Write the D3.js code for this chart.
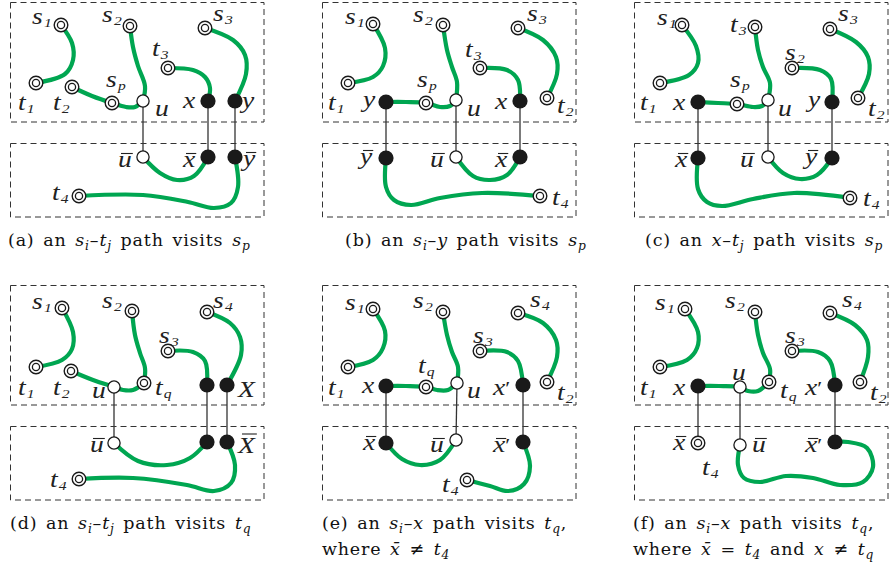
<!DOCTYPE html>
<html><head><meta charset="utf-8">
<script src="https://cdn.jsdelivr.net/npm/d3@7"></script>
<style>body{margin:0;background:#fff}</style>
</head><body>
<svg id="c" width="891" height="570" xmlns="http://www.w3.org/2000/svg"></svg>
<script>
// ---------- DATA ----------
const panelOrigins = [[10,2],[322,2],[634,2],[10,285],[322,285],[634,285]];

// nodes: [id, x, y, kind]  kind: T = terminal (double circle), W = white vertex, B = black vertex
const nodesA = [["s1",51,23,"T"],["t1",26,81,"T"],["s2",120,24,"T"],["t3",158,66,"T"],["s3",195,26,"T"],
  ["t2",62,85,"T"],["sp",102,101,"T"],["u",133,99,"W"],["x",198,99,"B"],["y",225,99,"B"],
  ["ub",133,155,"W"],["xb",198,155,"B"],["yb",225,155,"B"],["t4",69,194,"T"]];
const nodesB = [["s1",51,22,"T"],["t1",26,81,"T"],["s2",121,23,"T"],["t3",158,66,"T"],["s3",196,26,"T"],
  ["t2",225,96,"T"],["y",64,100,"B"],["sp",104,101,"T"],["u",134,98,"W"],["x",198,99,"B"],
  ["yb",64,156,"B"],["ub",134,155,"W"],["xb",198,155,"B"],["t4",218,194,"T"]];
const nodesC = [["s1",48,23,"T"],["t1",26,81,"T"],["t3",121,25,"T"],["s3",196,27,"T"],["s2",158,66,"T"],
  ["t2",224,96,"T"],["x",64,100,"B"],["sp",103,102,"T"],["u",134,98,"W"],["y",198,100,"B"],
  ["xb",64,156,"B"],["ub",134,155,"W"],["yb",198,156,"B"],["t4",216,196,"T"]];
const nodesD = [["s1",52,23,"T"],["s2",122,26,"T"],["s4",197,27,"T"],["s3",158,66,"T"],["t1",26,82,"T"],
  ["t2",61,86,"T"],["u",104,102,"W"],["tq",134,98,"T"],["b1",197,100,"B"],["b2",217,100,"B"],
  ["ub",104,158,"W"],["b3",197,157,"B"],["b4",217,157,"B"],["t4",69,194,"T"]];
const nodesE = [["s1",51,24,"T"],["s2",121,27,"T"],["s4",196,28,"T"],["s3",158,66,"T"],["t1",26,82,"T"],
  ["t2",225,97,"T"],["x",64,101,"B"],["tq",104,102,"T"],["u",135,98,"W"],["xp",201,100,"B"],
  ["xb",64,158,"B"],["ub",134,155,"W"],["xpb",201,157,"B"],["t4",145,195,"T"]];
const nodesF = [["s1",51,24,"T"],["s2",121,27,"T"],["s4",196,28,"T"],["s3",158,66,"T"],["t1",26,82,"T"],
  ["t2",226,97,"T"],["x",64,101,"B"],["u",106,102,"W"],["tq",135,97,"T"],["xp",201,100,"B"],
  ["xb",64,158,"T"],["ub",106,160,"W"],["xpb",201,157,"B"]];

// green paths: waypoint lists (node ids or intermediate points)
const pathsA = [
  ["s1",[62,41],[63,58],[55,72],"t1"],
  ["s2",[123,45],[128,64],[135,84],"u"],
  ["t2",[82,94],"sp",[116,105],[125,105],"u"],
  ["t3",[183,68],[195,75],[200,86],"x"],
  ["s3",[223,38],[235,53],[236,72],"y"],
  ["ub",[150,171],[167,178],[184,174],"xb"],
  ["yb",[228,185],[221,201],[204,206],[178,200],[133,193],"t4"]];
const pathsB = [
  ["s1",[63,46],[61,64],[51,75],"t1"],
  ["s2",[125,48],[130,65],[135,80],"u"],
  ["y",[84,100],"sp",[118,105],[128,104],"u"],
  ["t3",[185,68],[196,78],"x"],
  ["s3",[221,38],[234,55],[235,72],"t2"],
  ["ub",[151,174],[168,178],[185,173],"xb"],
  ["yb",[64,185],[72,198],[89,203],[118,196],[160,191],"t4"]];
const pathsC = [
  ["s1",[62,44],[64,61],[55,73],"t1"],
  ["t3",[124,48],[129,65],[136,81],"u"],
  ["x",[84,101],"sp",[119,105],[128,104],"u"],
  ["s2",[186,68],[197,77],"y"],
  ["s3",[222,40],[234,55],[235,72],"t2"],
  ["ub",[149,171],[166,177],[183,173],"yb"],
  ["xb",[64,187],[73,200],[88,204],[119,197],[160,191],"t4"]];
const pathsD = [
  ["s1",[63,47],[62,64],[52,75],"t1"],
  ["s2",[125,50],[130,68],[135,83],"tq"],
  ["t2",[83,95],"u",[113,105],[123,105],"tq"],
  ["s3",[183,67],[195,76],"b1"],
  ["s4",[220,38],[230,52],[231,70],"b2"],
  ["ub",[128,176],[157,180],[180,173],"b3"],
  ["b4",[225,180],[221,198],[204,206],[177,200],[123,193],"t4"]];
const pathsE = [
  ["s1",[63,46],[61,63],[51,75],"t1"],
  ["s2",[125,50],[130,67],[136,82],"u"],
  ["x",[84,101],"tq",[115,105],[126,105],"u"],
  ["s3",[185,67],[196,76],"xp"],
  ["s4",[221,38],[234,55],[235,72],"t2"],
  ["xb",[80,174],[98,180],[118,175],"ub"],
  ["xpb",[208,181],[202,199],[186,206],[168,201],"t4"]];
const pathsF = [
  ["s1",[64,47],[63,63],[53,75],"t1"],
  ["s2",[124,50],[129,68],[136,84],"tq"],
  ["x",[85,101],"u",[114,106],[124,106],"tq"],
  ["s3",[184,67],[196,76],"xp"],
  ["s4",[221,40],[233,55],[234,72],"t2"],
  ["ub",[104,180],[110,193],[126,197],[152,191],[179,193],[206,200],[229,197],[239,182],[233,163],[214,157],"xpb"]];

// thin vertical connections
const linksA = [["u","ub"],["x","xb"],["y","yb"]];
const linksB = [["y","yb"],["u","ub"],["x","xb"]];
const linksC = [["x","xb"],["u","ub"],["y","yb"]];
const linksD = [["u","ub"],["b1","b3"],["b2","b4"]];
const linksE = [["x","xb"],["u","ub"],["xp","xpb"]];
const linksF = [["x","xb"],["u","ub"],["xp","xpb"]];

// labels: [letter, subscript, x, y(baseline), bar, prime]
const labelsA = [["s","1",22,22],["s","2",92,20],["s","3",203,19],["t","3",142,54],["t","1",8,108],
  ["t","2",43,108],["s","p",96,85],["u","",145,114],["x","",173,106],["y","",232,106],
  ["u","",108,165,1],["x","",173,165,1],["y","",233,164,1],["t","4",42,198]];
const labelsB = [["s","1",23,22],["s","2",91,20],["s","3",205,19],["t","3",143,55],["t","1",6,108],
  ["y","",41,105],["s","p",95,85],["u","",145,114],["x","",173,107],["t","2",235,111],
  ["y","",38,162,1],["u","",108,165,1],["x","",173,165,1],["t","4",230,203]];
const labelsC = [["s","1",23,23],["t","3",96,30],["s","3",204,19],["s","2",151,58],["t","1",6,108],
  ["x","",39,108],["s","p",96,85],["u","",144,114],["y","",174,105],["t","2",234,114],
  ["x","",41,165,1],["u","",106,165,1],["y","",171,162,1],["t","4",229,204]];
const labelsD = [["s","1",22,24],["s","2",92,23],["s","4",203,23],["s","3",149,58],["t","1",8,110],
  ["t","2",43,110],["u","",82,113],["t","q",145,110],["X","",228,112],
  ["u","",80,167,1],["X","",228,168,1],["t","4",40,202]];
const labelsE = [["s","1",23,25],["s","2",91,23],["s","4",208,22],["s","3",151,58],["t","1",6,110],
  ["t","q",96,88],["x","",40,108],["u","",145,113],["x","",171,110,0,1],["t","2",235,115],
  ["x","",41,165,1],["u","",108,167,1],["x","",171,167,1,1],["t","4",120,207]];
const labelsF = [["s","1",21,25],["s","2",91,23],["s","4",208,22],["s","3",151,58],["t","1",6,110],
  ["x","",39,110],["u","",98,95],["t","q",146,113],["x","",171,110,0,1],["t","2",236,115],
  ["x","",39,165,1],["t","4",68,190],["u","",118,167,1],["x","",171,167,1,1]];

// captions: lines of [text, kind]  r = roman, i = math italic, s = subscript
const captionA = [[["(a) an ","r"],["s","i"],["i","s"],["–","r"],["t","i"],["j","s"],[" path visits ","r"],["s","i"],["p","s"]]];
const captionB = [[["(b) an ","r"],["s","i"],["i","s"],["–","r"],["y","i"],[" path visits ","r"],["s","i"],["p","s"]]];
const captionC = [[["(c) an ","r"],["x","i"],["–","r"],["t","i"],["j","s"],[" path visits ","r"],["s","i"],["p","s"]]];
const captionD = [[["(d) an ","r"],["s","i"],["i","s"],["–","r"],["t","i"],["j","s"],[" path visits ","r"],["t","i"],["q","s"]]];
const captionE = [[["(e) an ","r"],["s","i"],["i","s"],["–","r"],["x","i"],[" path visits ","r"],["t","i"],["q","s"],[",","r"]],
  [["where ","r"],["x\u0304","i"],[" \u2260 ","r"],["t","i"],["4","s"]]];
const captionF = [[["(f) an ","r"],["s","i"],["i","s"],["–","r"],["x","i"],[" path visits ","r"],["t","i"],["q","s"],[",","r"]],
  [["where ","r"],["x\u0304","i"],[" = ","r"],["t","i"],["4","s"],[" and ","r"],["x","i"],[" \u2260 ","r"],["t","i"],["q","s"]]];
const captionPos = [[8,246],[345,246],[645,246],[10,529],[322,529],[633,529]];

// ---------- DRAW ----------
const svg = d3.select("#c");
const GREEN = "#00a651";
const INK = "#1a1a1a";
const SERIF = '"Liberation Serif"';
const CAP_FONT = '"DejaVu Serif"';
const CAP_FS = 17.5;
const LBL_STRETCH = 1.2;

function drawCaptionLine(x, y, segs){
  const tx = svg.append("text").attr("x",x).attr("y",y)
    .style("font-family",CAP_FONT).style("font-size",CAP_FS+"px")
    .style("letter-spacing","0.8px").style("word-spacing","2.4px").attr("fill","#111");
  let shifted=false;
  segs.forEach(([s,k])=>{
    const ts = tx.append("tspan").text(s);
    if(k==="i") ts.style("font-style","italic");
    if(k==="s"){ ts.style("font-style","italic").style("font-size",(CAP_FS*0.7)+"px"); if(!shifted){ts.attr("dy",4); shifted=true;} }
    else if(shifted){ ts.attr("dy",-4); shifted=false; }
  });
  return tx;
}

const panels = [
  [nodesA,pathsA,linksA,labelsA,captionA],[nodesB,pathsB,linksB,labelsB,captionB],
  [nodesC,pathsC,linksC,labelsC,captionC],[nodesD,pathsD,linksD,labelsD,captionD],
  [nodesE,pathsE,linksE,labelsE,captionE],[nodesF,pathsF,linksF,labelsF,captionF]];

panels.forEach(([nodes,paths,links,labels,caption],i)=>{
  const [ox,oy] = panelOrigins[i];
  const sx = d3.scaleLinear().domain([0,254]).range([ox,ox+254]);
  const sy = d3.scaleLinear().domain([0,215]).range([oy,oy+215]);
  const g = svg.append("g");
  const pos = new Map(nodes.map(n=>[n[0],[n[1],n[2]]]));
  const pt = w => typeof w==="string" ? pos.get(w) : w;

  [[0,0,253.5,119.5],[0,141,253.5,73.5]].forEach(([x,y,w,h])=>{
    g.append("rect").attr("x",Math.round(sx(x))+0.5).attr("y",Math.round(sy(y))+0.5)
      .attr("width",w).attr("height",h).attr("fill","none")
      .attr("stroke","#333").attr("stroke-width",1).attr("stroke-dasharray","6,4");
  });

  links.forEach(([a,b])=>{
    const p=pos.get(a), q=pos.get(b);
    g.append("line").attr("x1",sx(p[0])).attr("y1",sy(p[1])).attr("x2",sx(q[0])).attr("y2",sy(q[1]))
      .attr("stroke","#333").attr("stroke-width",1.3);
  });

  const line = d3.line().x(d=>sx(d[0])).y(d=>sy(d[1])).curve(d3.curveCatmullRom.alpha(0.5));
  paths.forEach(p=>{
    g.append("path").attr("d",line(p.map(pt))).attr("fill","none")
      .attr("stroke",GREEN).attr("stroke-width",4.2).attr("stroke-linecap","round").attr("stroke-linejoin","round");
  });

  nodes.forEach(([id,x,y,k])=>{
    const cx=sx(x), cy=sy(y);
    if(k==="T"){
      g.append("circle").attr("cx",cx).attr("cy",cy).attr("r",6.8).attr("fill","#fff").attr("stroke",INK).attr("stroke-width",1.4);
      g.append("circle").attr("cx",cx).attr("cy",cy).attr("r",3.6).attr("fill","#fff").attr("stroke",INK).attr("stroke-width",1.3);
    } else if(k==="W"){
      g.append("circle").attr("cx",cx).attr("cy",cy).attr("r",6.1).attr("fill","#fff").attr("stroke",INK).attr("stroke-width",1.3);
    } else {
      g.append("circle").attr("cx",cx).attr("cy",cy).attr("r",7.6).attr("fill",INK);
    }
  });

  labels.forEach(([t,sub,x,y,bar,prime])=>{
    const lx=sx(x), ly=sy(y);
    const tx = g.append("text").attr("x",0).attr("y",0)
      .attr("transform",`translate(${lx},${ly}) scale(${LBL_STRETCH},1)`)
      .style("font-family",SERIF).style("font-style","italic").style("font-size","23px").attr("fill","#222");
    const main = tx.append("tspan").text(t);
    if(prime) tx.append("tspan").style("font-style","normal").style("font-size","19px").text("\u2032");
    if(sub) tx.append("tspan").style("font-size","13px").attr("dy",3).attr("dx",1).text(sub);
    if(bar){
      const w = main.node().getComputedTextLength()*LBL_STRETCH;
      const cap = t===t.toUpperCase();
      const by = ly - (cap?19:13.5);
      g.append("line").attr("x1",lx+(cap?4:3)).attr("x2",lx+w+(cap?2:1)).attr("y1",by).attr("y2",by)
        .attr("stroke","#222").attr("stroke-width",1.1);
    }
  });

  const [cx0,cy0] = captionPos[i];
  caption.forEach((segs,li)=> drawCaptionLine(cx0, cy0+li*26, segs));
});
</script>
</body></html>
